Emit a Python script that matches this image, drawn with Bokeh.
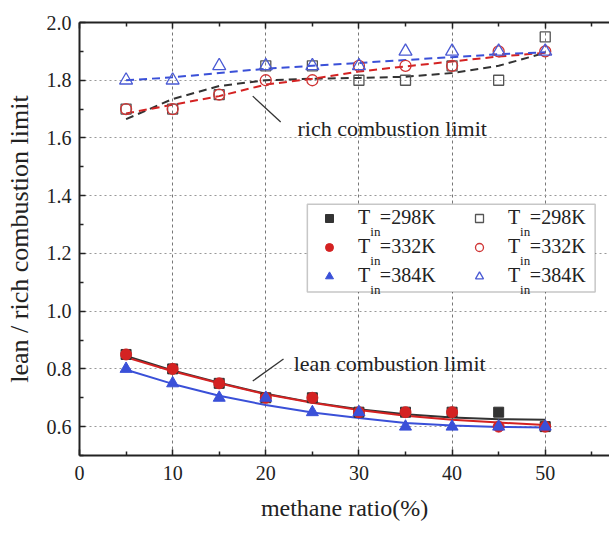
from bokeh.plotting import figure
from bokeh.models import (FixedTicker, LinearAxis, Range1d, Legend, LegendItem,
                          Label, Arrow, BoxAnnotation, CustomLabelingPolicy,
                          NumeralTickFormatter)
from bokeh.embed import file_html
from bokeh.resources import INLINE

# ---------------- data ----------------
ratio = [5, 10, 15, 20, 25, 30, 35, 40, 45, 50]

# lean combustion limit (filled markers, solid fit lines)
lean_298 = [0.85, 0.80, 0.75, 0.70, 0.70, 0.65, 0.65, 0.65, 0.65, 0.60]
lean_332 = [0.85, 0.80, 0.75, 0.70, 0.70, 0.65, 0.65, 0.65, 0.60, 0.60]
lean_384 = [0.80, 0.75, 0.70, 0.70, 0.65, 0.65, 0.60, 0.60, 0.60, 0.60]
lean_fit_298 = [0.845, 0.795, 0.752, 0.714, 0.684, 0.660, 0.643, 0.632, 0.626, 0.624]
lean_fit_332 = [0.840, 0.792, 0.750, 0.712, 0.683, 0.658, 0.638, 0.624, 0.614, 0.606]
lean_fit_384 = [0.797, 0.748, 0.707, 0.675, 0.649, 0.630, 0.613, 0.604, 0.599, 0.597]

# rich combustion limit (open markers, dashed fit lines)
rich_298 = [1.70, 1.70, 1.75, 1.85, 1.85, 1.80, 1.80, 1.85, 1.80, 1.95]
rich_332 = [1.70, 1.70, 1.75, 1.80, 1.80, 1.85, 1.85, 1.85, 1.90, 1.90]
rich_384 = [1.80, 1.80, 1.85, 1.85, 1.85, 1.85, 1.90, 1.90, 1.90, 1.90]
rich_fit_298 = [1.665, 1.735, 1.780, 1.800, 1.805, 1.808, 1.812, 1.825, 1.850, 1.895]
rich_fit_332 = [1.685, 1.715, 1.745, 1.785, 1.805, 1.830, 1.848, 1.865, 1.882, 1.895]
rich_fit_384 = [1.800, 1.810, 1.825, 1.840, 1.850, 1.860, 1.870, 1.880, 1.890, 1.897]

x_ticks = [0, 10, 20, 30, 40, 50]
y_ticks = [0.6, 0.8, 1.0, 1.2, 1.4, 1.6, 1.8, 2.0]
temps = ["298K", "332K", "384K"]

FONT = "'Liberation Serif', 'Times New Roman', 'DejaVu Serif', serif"
BLACK = "#333333"
RED = "#d42222"
BLUE = "#3a50d8"

p = figure(width=609, height=534, x_range=Range1d(0, 56.9), y_range=Range1d(0.5, 2.0),
           output_backend="svg", toolbar_location=None,
           x_axis_location=None, y_axis_location=None,
           min_border_left=79, min_border_right=0, min_border_top=19, min_border_bottom=79)
p.outline_line_color = None
p.background_fill_color = "white"
p.border_fill_color = "white"

x_minor = [5, 15, 25, 35, 45, 55]
y_minor = [0.5, 0.7, 0.9, 1.1, 1.3, 1.5, 1.7, 1.9]

bottom_axis = LinearAxis(ticker=FixedTicker(ticks=x_ticks, minor_ticks=x_minor),
                         axis_label="methane ratio(%)")
left_axis = LinearAxis(ticker=FixedTicker(ticks=y_ticks, minor_ticks=y_minor),
                       axis_label="lean / rich combustion limit",
                       formatter=NumeralTickFormatter(format="0.0"))
top_axis = LinearAxis(ticker=FixedTicker(ticks=x_ticks, minor_ticks=x_minor),
                      major_label_policy=CustomLabelingPolicy(code="return new Set()"))
p.add_layout(bottom_axis, "below")
p.add_layout(left_axis, "left")
p.add_layout(top_axis, "above")

for ax in (bottom_axis, left_axis, top_axis):
    ax.axis_line_width = 2
    ax.axis_line_color = "#222222"
    ax.major_tick_in = 6
    ax.major_tick_out = 0
    ax.minor_tick_in = 4
    ax.minor_tick_out = 0
    ax.major_tick_line_width = 1.5
    ax.minor_tick_line_width = 1.5
    ax.major_tick_line_color = "#222222"
    ax.minor_tick_line_color = "#222222"
    ax.major_label_text_font = FONT
    ax.major_label_text_font_size = "20px"
    ax.major_label_text_color = "#222222"
    ax.axis_label_text_font = FONT
    ax.axis_label_text_font_style = "normal"
    ax.axis_label_text_color = "#222222"

bottom_axis.axis_label_text_font_size = "24px"
bottom_axis.major_label_standoff = 10
bottom_axis.axis_label_standoff = 12
left_axis.axis_label_text_font_size = "26px"
left_axis.major_label_standoff = 8
left_axis.axis_label_standoff = 10

p.xgrid.ticker = FixedTicker(ticks=x_ticks)
p.ygrid.ticker = FixedTicker(ticks=y_ticks)
p.xgrid.grid_line_color = "#777777"
p.xgrid.grid_line_dash = "3 3"
p.ygrid.grid_line_color = "#999999"
p.ygrid.grid_line_dash = "2 3"
p.grid.grid_line_width = 1

# rich fit lines (dashed)
p.line(ratio, rich_fit_298, line_color=BLACK, line_width=2, line_dash="8 5")
p.line(ratio, rich_fit_332, line_color=RED, line_width=2, line_dash="8 5")
p.line(ratio, rich_fit_384, line_color=BLUE, line_width=2, line_dash="8 5")

# lean fit lines (solid)
p.line(ratio, lean_fit_298, line_color=BLACK, line_width=2)
p.line(ratio, lean_fit_332, line_color=RED, line_width=2)
p.line(ratio, lean_fit_384, line_color=BLUE, line_width=2)

# lean markers (filled)
r_f298 = p.scatter(ratio, lean_298, marker="square", size=10, fill_color=BLACK, line_color=BLACK)
r_f332 = p.scatter(ratio, lean_332, marker="circle", size=11, fill_color=RED, line_color=RED)
r_f384 = p.scatter(ratio, lean_384, marker="triangle", size=12, fill_color=BLUE, line_color=BLUE)

# rich markers (open)
r_o298 = p.scatter(ratio, rich_298, marker="square", size=10, fill_color=None,
                   line_color="#555555", line_width=1.3)
r_o332 = p.scatter(ratio, rich_332, marker="circle", size=11, fill_color=None,
                   line_color="#d03535", line_width=1.3)
r_o384 = p.scatter(ratio, rich_384, marker="triangle", size=13, fill_color=None,
                   line_color="#4a5ad4", line_width=1.3)

# annotations
p.add_layout(Label(x=23.4, y=1.632, text="rich combustion limit", text_font=FONT,
                   text_font_size="22px", text_color="#222222", text_baseline="alphabetic"))
p.add_layout(Arrow(x_start=18.6, y_start=1.745, x_end=21.6, y_end=1.655, end=None,
                   line_color="#333333", line_width=1.3))
p.add_layout(Label(x=23.0, y=0.82, text="lean combustion limit", text_font=FONT,
                   text_font_size="22px", text_color="#222222", text_baseline="alphabetic"))
p.add_layout(Arrow(x_start=18.6, y_start=0.758, x_end=21.9, y_end=0.834, end=None,
                   line_color="#333333", line_width=1.3))

# legend frame
p.add_layout(BoxAnnotation(left=24.46, right=55.36, top=1.370, bottom=1.066,
                           fill_color="white", fill_alpha=1.0,
                           line_color="#444444", line_width=1.5, level="annotation"))

def make_legend(renderers, loc):
    items = [LegendItem(label="T  =" + t, renderers=[r]) for t, r in zip(temps, renderers)]
    lg = Legend(items=items, location=loc, orientation="vertical",
                glyph_width=20, glyph_height=20, label_standoff=19, spacing=6,
                padding=4, margin=0, label_text_font=FONT, label_text_font_size="20px",
                label_text_color="#222222", border_line_color=None,
                background_fill_alpha=0.0)
    return lg

p.add_layout(make_legend([r_f298, r_f332, r_f384], (240, 168)))
p.add_layout(make_legend([r_o298, r_o332, r_o384], (390, 168)))

sub_y = [1.276, 1.176, 1.076]
for xs in (31.22, 47.3):
    for yy in sub_y:
        p.add_layout(Label(x=xs, y=yy, text="in", text_font=FONT, text_font_size="13px",
                           text_color="#222222", text_baseline="alphabetic"))

open("out.html", "w").write(file_html(p, INLINE))
